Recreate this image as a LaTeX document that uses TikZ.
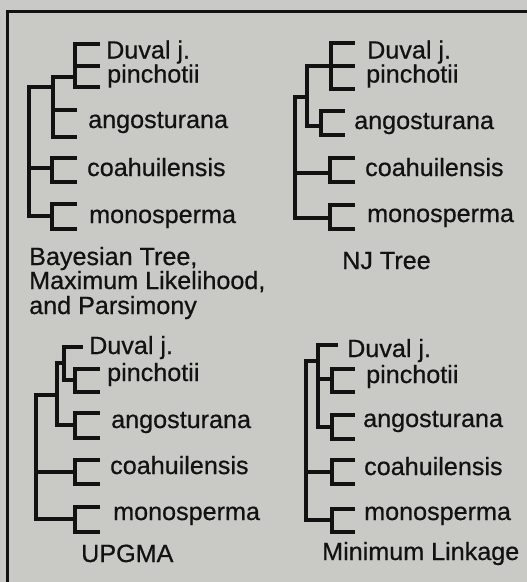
\documentclass[tikz,border=0pt]{standalone}
\usepackage{fontspec}
\setmainfont{Liberation Sans}[FakeStretch=1.01,FakeBold=0.6]
\definecolor{bgc}{RGB}{201,202,198}
\definecolor{ink}{RGB}{18,18,18}
\begin{document}
\begin{tikzpicture}[x=1pt,y=-1pt,
  br/.style={draw=ink,line width=3.1pt,line cap=rect,line join=miter},
  lbl/.style={anchor=base west,inner sep=0pt,text=ink,font=\fontsize{24.9}{28}\selectfont}]
\useasboundingbox (0,0) rectangle (527,582);
\fill[bgc] (0,0) rectangle (527,582);
\draw[draw=ink,line width=3.2pt,line join=miter] (7.5,585) -- (7.5,11.5) -- (530,11.5);

% ---------- top left: Bayesian / ML / Parsimony ----------
\draw[br] (29,87) -- (29,216);
\draw[br] (29,87) -- (53,87);
\draw[br] (53,77) -- (53,137);
\draw[br] (53,77) -- (75,77);
\draw[br] (98,44) -- (75,44) -- (75,87) -- (98,87);
\draw[br] (75,66) -- (98,66);
\draw[br] (53,110) -- (75,110);
\draw[br] (53,137) -- (75,137);
\draw[br] (29,168) -- (52,168);
\draw[br] (75,158) -- (52,158) -- (52,182) -- (75,182);
\draw[br] (29,216) -- (52,216);
\draw[br] (75,204) -- (52,204) -- (52,229) -- (75,229);
\node[lbl] (tla) at (106,58.5) {Duval j.};
\node[lbl] (tlb) at (107,82.5) {pinchotii};
\node[lbl] (tlc) at (88,128) {angosturana};
\node[lbl] (tld) at (87,176) {coahuilensis};
\node[lbl] (tle) at (89,223) {monosperma};
\node[lbl] (tlt1) at (29,265) {Bayesian Tree,};
\node[lbl] (tlt2) at (29,289) {Maximum Likelihood,};
\node[lbl] (tlt3) at (29,314) {and Parsimony};

% ---------- top right: NJ ----------
\draw[br] (295,97) -- (295,218);
\draw[br] (295,97) -- (307,97);
\draw[br] (307,66) -- (307,126);
\draw[br] (307,66) -- (353,66);
\draw[br] (353,43) -- (331,43) -- (331,89) -- (353,89);
\draw[br] (307,126) -- (321,126);
\draw[br] (343,111) -- (321,111) -- (321,135) -- (343,135);
\draw[br] (295,173) -- (330,173);
\draw[br] (353,158) -- (330,158) -- (330,182) -- (353,182);
\draw[br] (295,218) -- (330,218);
\draw[br] (353,205) -- (330,205) -- (330,229) -- (353,229);
\node[lbl] (tra) at (367,58.5) {Duval j.};
\node[lbl] (trb) at (366,82.5) {pinchotii};
\node[lbl] (trc) at (354,129) {angosturana};
\node[lbl] (trd) at (365,176) {coahuilensis};
\node[lbl] (tre) at (367,222) {monosperma};
\node[lbl] (trt) at (342,269) {NJ Tree};

% ---------- bottom left: UPGMA ----------
\draw[br] (36,395) -- (36,519);
\draw[br] (36,395) -- (57,395);
\draw[br] (57,363) -- (57,425);
\draw[br] (57,363) -- (64,363);
\draw[br] (81,347) -- (64,347) -- (64,380) -- (75,380);
\draw[br] (98,369) -- (75,369) -- (75,392) -- (98,392);
\draw[br] (57,425) -- (75,425);
\draw[br] (98,413) -- (75,413) -- (75,438) -- (98,438);
\draw[br] (36,472) -- (75,472);
\draw[br] (98,460) -- (75,460) -- (75,484) -- (98,484);
\draw[br] (36,519) -- (75,519);
\draw[br] (98,507) -- (75,507) -- (75,532) -- (98,532);
\node[lbl] (bla) at (89,354) {Duval j.};
\node[lbl] (blb) at (107,381) {pinchotii};
\node[lbl] (blc) at (111,428) {angosturana};
\node[lbl] (bld) at (110,474) {coahuilensis};
\node[lbl] (ble) at (113,520) {monosperma};
\node[lbl] (blt) at (81,562) {UPGMA};

% ---------- bottom right: Minimum Linkage ----------
\draw[br] (306,361) -- (306,520);
\draw[br] (306,361) -- (318,361);
\draw[br] (336,345) -- (318,345) -- (318,427);
\draw[br] (318,379) -- (332,379);
\draw[br] (353,369) -- (332,369) -- (332,392) -- (353,392);
\draw[br] (318,427) -- (332,427);
\draw[br] (353,415) -- (332,415) -- (332,439) -- (353,439);
\draw[br] (306,472) -- (332,472);
\draw[br] (353,460) -- (332,460) -- (332,484) -- (353,484);
\draw[br] (306,520) -- (332,520);
\draw[br] (353,509) -- (332,509) -- (332,532) -- (353,532);
\node[lbl] (bra) at (347,357) {Duval j.};
\node[lbl] (brb) at (366,383) {pinchotii};
\node[lbl] (brc) at (363,427) {angosturana};
\node[lbl] (brd) at (364,475) {coahuilensis};
\node[lbl] (bre) at (364,520) {monosperma};
\node[lbl] (brt) at (322,560) {Minimum Linkage};
\end{tikzpicture}
\end{document}
